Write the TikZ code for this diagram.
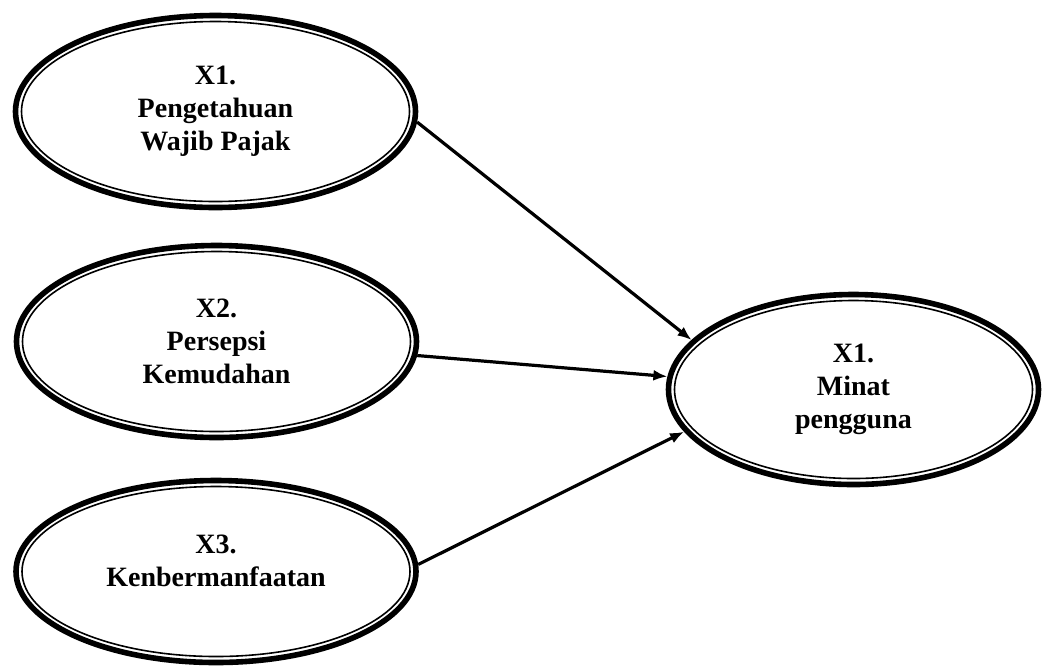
\documentclass[tikz,border=0pt]{standalone}
\usepackage{fontspec}
\setmainfont{Liberation Serif}
\usetikzlibrary{arrows.meta,positioning,shapes.geometric}

\begin{document}
\begin{tikzpicture}[
    x=0.5pt, y=-0.5pt,
    >={Latex[length=7pt,width=5.5pt]},
    variabel/.style 2 args={ellipse, draw=black, line width=2.8pt, inner sep=0pt,
        minimum width=#1, minimum height=#2, align=center,
        font=\bfseries\fontsize{14}{16.5}\selectfont,
        path picture={\draw[line width=0.8pt] (path picture bounding box.center)
            ellipse [x radius=#1/2-3pt, y radius=#2/2-3pt];}},
    panah/.style={->, line width=1.6pt}
]
\useasboundingbox (0,0) rectangle (1043,666);

% Variabel bebas
\node[variabel={200pt}{96pt}] (pengetahuan) at (215.5,111.5) {X1.\\Pengetahuan\\Wajib Pajak};
\node[variabel={200pt}{96pt}] (persepsi) at (216.5,341.5) {X2.\\Persepsi\\Kemudahan};
\node[variabel={200pt}{91pt}] (manfaat) at (216,571.5) {X3.\\Kenbermanfaatan\\[-6pt]\mbox{}};

% Variabel terikat
\node[variabel={185pt}{95pt}] (minat) at (853.5,389.5) {X1.\\Minat\\pengguna};

% Panah pengaruh
\draw[panah] (pengetahuan.-3.9) -- (minat.163.3);
\draw[panah] (persepsi.-4.8) -- (minat.176.2);
\draw[panah] (manfaat.2.4) -- (minat.-166);

\end{tikzpicture}
\end{document}
